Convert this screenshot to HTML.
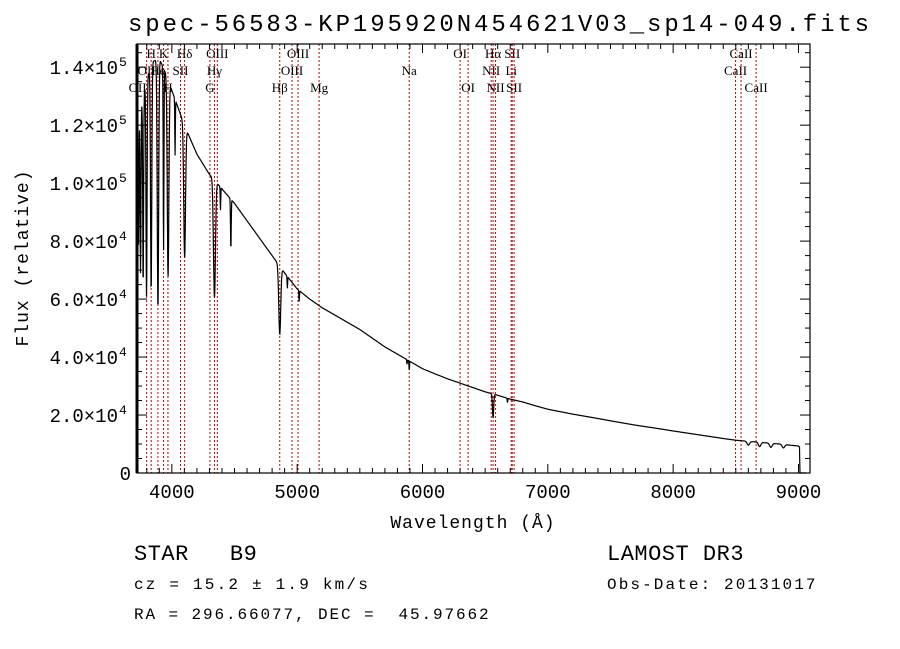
<!DOCTYPE html>
<html><head><meta charset="utf-8"><style>
body{margin:0;background:#fff;}
svg{display:block;}
.t{font-family:"Liberation Mono",monospace;fill:#000;white-space:pre;}
.s{font-family:"Liberation Serif",serif;fill:#000;}
</style></head><body>
<svg id="chart" width="900" height="649" viewBox="0 0 900 649" xmlns="http://www.w3.org/2000/svg">
<rect width="900" height="649" fill="#fff"/>
<text class="t" x="500" y="31" font-size="24" letter-spacing="2.9" text-anchor="middle">spec-56583-KP195920N454621V03_sp14-049.fits</text>
<g id="lines"></g>
<g id="spec"></g>
<g id="axes"></g>
<text class="t" x="473" y="528" font-size="18" text-anchor="middle" letter-spacing="1">Wavelength (Å)</text>
<text class="t" x="0" y="0" font-size="18" text-anchor="middle" letter-spacing="1" transform="translate(28,258) rotate(-90)">Flux (relative)</text>
<text class="t" x="134" y="560" font-size="22" letter-spacing="0.5" xml:space="preserve">STAR   B9</text>
<text class="t" x="134" y="589" font-size="16" letter-spacing="2.2" xml:space="preserve">cz = 15.2 ± 1.9 km/s</text>
<text class="t" x="134" y="619" font-size="16" letter-spacing="1.9" xml:space="preserve">RA = 296.66077, DEC =  45.97662</text>
<text class="t" x="607" y="560" font-size="22" letter-spacing="0.5">LAMOST DR3</text>
<text class="t" x="607" y="589" font-size="16" letter-spacing="2.1">Obs-Date: 20131017</text>
</svg>
<script>
const xTicks=[4000,5000,6000,7000,8000,9000];
const yTicks=[0,20000,40000,60000,80000,100000,120000,140000];
const yLabels=["0","2.0","4.0","6.0","8.0","1.0","1.2","1.4"];
const yExps=["","4","4","4","4","5","5","5"];
const contWave=[3722,3760,3800,3850,3900,3950,4000,4050,4100,4200,4300,4400,4500,4600,4700,4800,4900,5000,5100,5200,5300,5400,5500,5600,5700,5800,5900,6000,6100,6200,6300,6400,6500,6600,6700,6800,6900,7000,7200,7400,7500,7700,7900,8000,8200,8400,8500,8800,9000,9008,9012,9092];
const contFlux=[118000,128000,136000,142000,143000,138000,132000,126000,120000,110000,103000,98000,93000,87000,81000,75000,69000,63500,60000,57000,54500,52000,49500,46500,43500,41000,38500,36000,34200,32500,31000,29500,28000,26800,25500,24500,23200,22000,20300,18800,18000,16500,15200,14500,13200,11900,11300,10200,9300,9000,0,0];
const lineWave=[3734,3750,3771,3798,3835,3889,3934,3970,4026,4102,4340,4388,4471,4861,4922,5016,5876,5894,6563,6678,8600,8690,8780,8880];
const lineDepth=[0.35,0.45,0.5,0.55,0.55,0.6,0.45,0.5,0.15,0.38,0.4,0.08,0.18,0.33,0.06,0.06,0.04,0.08,0.3,0.06,0.12,0.14,0.14,0.12];
const lineWidth=[4,5,5,6,7,8,4,9,3,10,11,3,4,11,3,3,3,3,7,3,14,14,14,14];
const markWave=[3727,3799,3835,3889,3934,3969,4069,4102,4304,4340,4363,4861,4959,5007,5175,5894,6300,6364,6548,6563,6583,6708,6716,6731,8498,8542,8662];
const labelText=["OII","OII","H","He","K","H","SII","Hδ","G","Hγ","OIII","Hβ","OIII","OIII","Mg","Na","OI","OI","NII","Hα","NII","Li","SII","SII","CaII","CaII","CaII"];
const labelRow=[3,2,1,2,1,3,2,1,3,2,1,3,2,1,3,2,1,3,2,1,3,2,1,3,2,1,3];
const L=137,R=810,T=44,B=473,W0=3722,W1=9092,F1=148000;
const xs=w=>L+(w-W0)/(W1-W0)*(R-L);
const ys=f=>B-f/F1*(B-T);
const NS="http://www.w3.org/2000/svg";
function mk(tag,parent,attrs){const e=document.createElementNS(NS,tag);for(const k in attrs)e.setAttribute(k,attrs[k]);parent.appendChild(e);return e;}
const gl=document.getElementById('lines'),gs=document.getElementById('spec'),ga=document.getElementById('axes');
markWave.forEach((w,i)=>{
  const x=xs(w);
  const ln=mk('line',gl,{x1:x,x2:x,y1:T,y2:B,stroke:'#c00000','stroke-width':1,'stroke-dasharray':'2,2'});
  
  
  const tx=mk('text',gl,{x:x,y:T+14+(labelRow[i]-1)*17,'font-size':13,'text-anchor':'middle',class:'s'});
  tx.textContent=labelText[i];
  
  
});
function cont(w){for(let i=0;i<contWave.length-1;i++){if(w>=contWave[i]&&w<=contWave[i+1]){const t=(w-contWave[i])/(contWave[i+1]-contWave[i]);return contFlux[i]+t*(contFlux[i+1]-contFlux[i]);}}return 0;}
let d='';
for(let w=W0;w<=9060;w+=2){
  let f=cont(w),m=1;
  lineWave.forEach((lw,i)=>{const z=(w-lw)/lineWidth[i];m*=1-lineDepth[i]*Math.exp(-z*z);});
  f*=m;
  d+=(d?'L':'M')+xs(w).toFixed(1)+','+ys(f).toFixed(1);
}
const sp=mk('path',gs,{d:d,fill:'none',stroke:'#000','stroke-width':1.2});


const fr=mk('rect',ga,{x:L,y:T,width:R-L,height:B-T,fill:'none',stroke:'#000','stroke-width':1.2});


mk('line',ga,{x1:L,x2:L,y1:T,y2:B,stroke:'#000','stroke-width':3});
for(let w=3800;w<=9000;w+=100){const x=xs(w),mj=w%1000===0,h=mj?9:5;
  mk('line',ga,{x1:x,x2:x,y1:B,y2:B-h,stroke:'#000'});mk('line',ga,{x1:x,x2:x,y1:T,y2:T+h,stroke:'#000'});}
xTicks.forEach(w=>{const t=mk('text',ga,{x:xs(w),y:B+25,'font-size':19,'text-anchor':'middle',class:'t'});t.textContent=String(w);
  
  });
for(let f=0;f<=145000;f+=5000){const y=ys(f),mj=f%20000===0,h=mj?10:5;
  mk('line',ga,{x1:L,x2:L+h,y1:y,y2:y,stroke:'#000'});mk('line',ga,{x1:R,x2:R-h,y1:y,y2:y,stroke:'#000'});}
yTicks.forEach((f,i)=>{const t=mk('text',ga,{x:yExps[i]?118:131,y:ys(f)+7,'font-size':19,'text-anchor':'end',class:'t'});
  
  
  if(yExps[i]){t.textContent=yLabels[i]+'×10';const s=mk('text',ga,{x:119,y:ys(f)-1,'font-size':13,class:'t'});s.textContent=yExps[i];}
  else t.textContent=yLabels[i];});
</script>
</body></html>
